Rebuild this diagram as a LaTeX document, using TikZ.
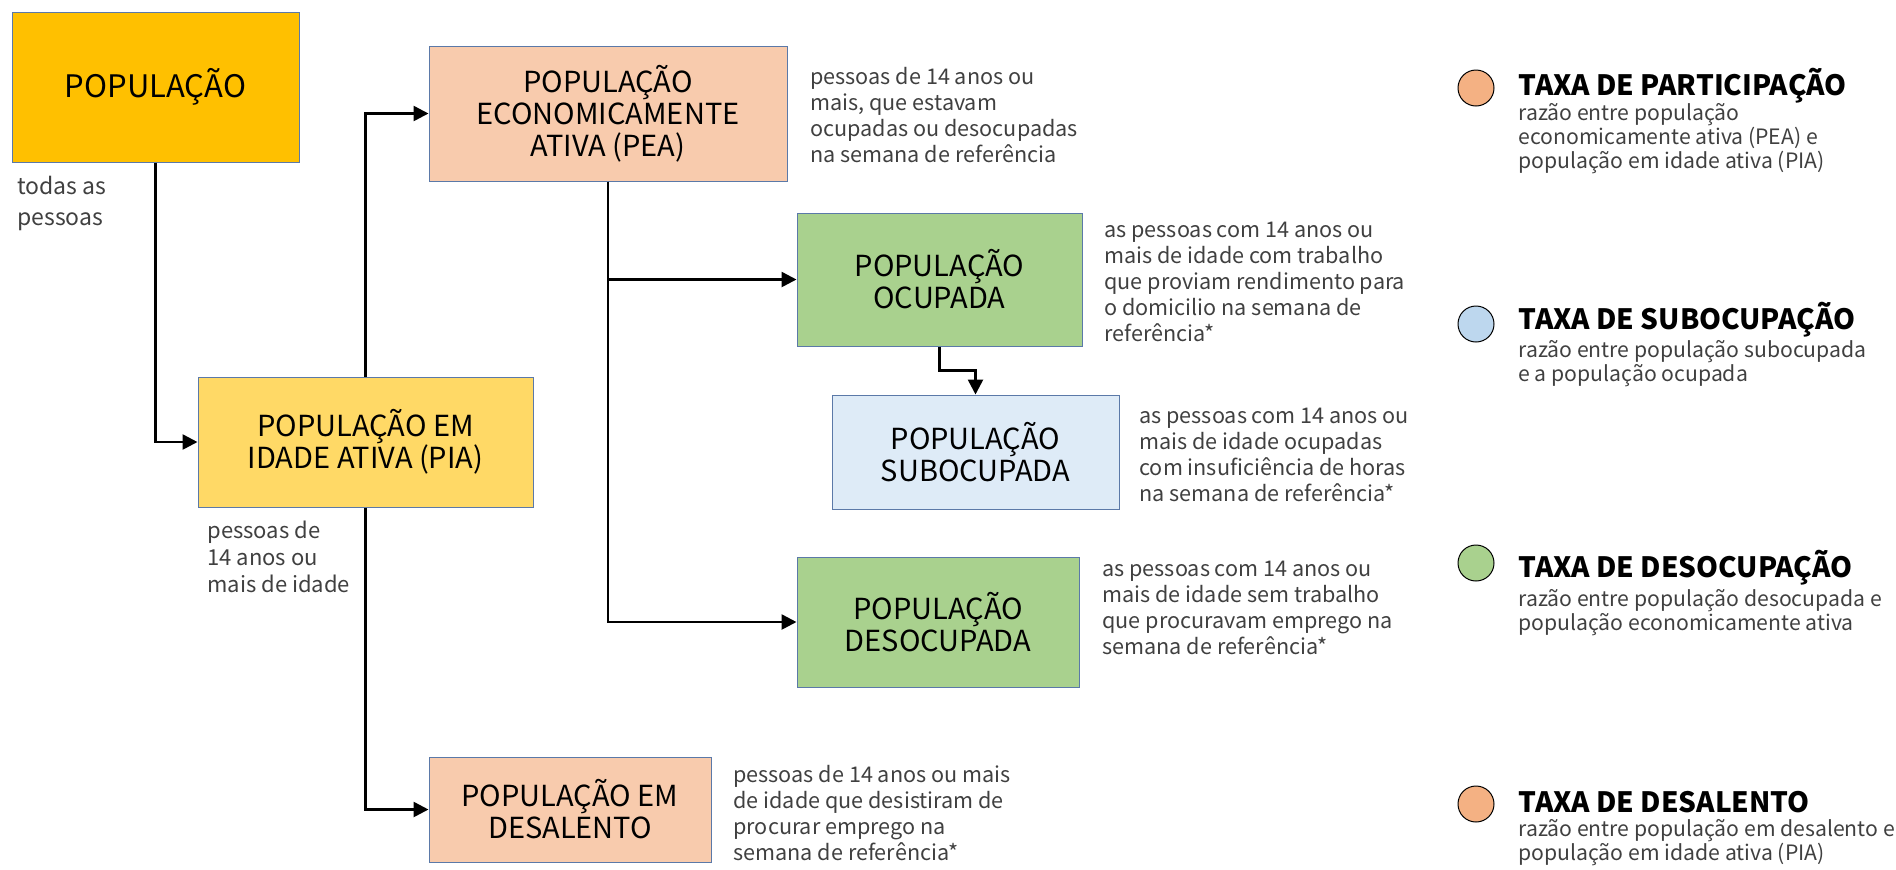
\documentclass[tikz,border=0pt]{standalone}
\usepackage{fontspec}
\setmainfont{Noto Sans CJK JP}
\usepackage{xcolor}
\usepackage{tikz}
\usetikzlibrary{arrows.meta,positioning}

\definecolor{popamarelo}{HTML}{FFC000}
\definecolor{piaamarelo}{HTML}{FFD966}
\definecolor{peasalmao}{HTML}{F8CBAD}
\definecolor{ocupverde}{HTML}{A9D18E}
\definecolor{subazul}{HTML}{DEEBF7}
\definecolor{bordaazul}{HTML}{5B79A8}
\definecolor{textocinza}{HTML}{404040}
\definecolor{laranja}{HTML}{F4B183}
\definecolor{azulclaro}{HTML}{BDD7EE}

\begin{document}
\begin{tikzpicture}[>=Latex,x=0.5pt,y=-0.5pt,
caixa/.style={draw=bordaazul,line width=0.5pt,align=center,inner sep=0pt,
  font=\fontsize{14.5}{16}\selectfont},
desc/.style={anchor=west,align=left,inner sep=0pt,text=textocinza,
  font=\fontsize{10.8}{13}\selectfont},
seta/.style={->,line width=1.3pt,>={Triangle[length=7.5pt,width=7.5pt]}},
bola/.style={circle,draw=black,line width=0.5pt,minimum size=18pt,inner sep=0pt},
titulo/.style={anchor=west,inner sep=0pt,font=\fontsize{14}{14}\selectfont\bfseries},
legdesc/.style={anchor=west,align=left,inner sep=0pt,text=textocinza,
  font=\fontsize{10.6}{12}\selectfont}]
\useasboundingbox (0,0) rectangle (1896,869);

\node[caixa,fill=popamarelo,minimum width=143.5pt,minimum height=75pt,
  font=\fontsize{15.5}{16}\selectfont] (pop) at (155.5,87) {POPULAÇÃO};
\node[caixa,fill=piaamarelo,minimum width=167.5pt,minimum height=65pt] (pia) at (365.5,442)
  {POPULAÇÃO EM\\IDADE ATIVA (PIA)};
\node[caixa,fill=peasalmao,minimum width=179pt,minimum height=67.5pt] (pea) at (608,113.5)
  {POPULAÇÃO\\ECONOMICAMENTE\\ATIVA (PEA)};
\node[caixa,fill=ocupverde,minimum width=142.5pt,minimum height=66.5pt] (ocup) at (939.5,279.5)
  {POPULAÇÃO\\OCUPADA};
\node[caixa,fill=subazul,minimum width=143.5pt,minimum height=57pt] (subo) at (975.5,452)
  {POPULAÇÃO\\SUBOCUPADA};
\node[caixa,fill=ocupverde,minimum width=141pt,minimum height=65pt] (desoc) at (938,622)
  {POPULAÇÃO\\DESOCUPADA};
\node[caixa,fill=peasalmao,minimum width=141pt,minimum height=52.5pt] (desal) at (570,809.5)
  {POPULAÇÃO EM\\DESALENTO};

\node[desc,font=\fontsize{11.5}{15.5}\selectfont] (todas) at (17,203) {todas as\\pessoas};
\node[desc,font=\fontsize{11}{13.5}\selectfont] (piatxt) at (207,556.5)
  {pessoas de\\14 anos ou\\mais de idade};
\node[desc] (peatxt) at (810,115.5)
  {pessoas de 14 anos ou\\mais, que estavam\\ocupadas ou desocupadas\\na semana de referência};
\node[desc] (ocuptxt) at (1104,282)
  {as pessoas com 14 anos ou\\mais de idade com trabalho\\que proviam rendimento para\\o domicilio na semana de\\referência*};
\node[desc] (subotxt) at (1139,455)
  {as pessoas com 14 anos ou\\mais de idade ocupadas\\com insuficiência de horas\\na semana de referência*};
\node[desc] (desoctxt) at (1102,608)
  {as pessoas com 14 anos ou\\mais de idade sem trabalho\\que procuravam emprego na\\semana de referência*};
\node[desc] (desaltxt) at (733,813)
  {pessoas de 14 anos ou mais\\de idade que desistiram de\\procurar emprego na\\semana de referência*};

\draw[seta] (pop.south) |- (pia.west);
\draw[seta] (pia.north) |- (pea.west);
\draw[seta] (pia.south) |- (desal.west);
\draw[seta] (pea.south) |- (ocup.west);
\draw[seta] (pea.south) |- (desoc.west);
\draw[seta] (ocup.south) -- ++(0,24) -| (subo.north);

\node[bola,fill=laranja] (b1) at (1476,88) {};
\node[titulo] (t1) at (1518,86) {TAXA DE PARTICIPAÇÃO};
\node[legdesc] (d1) at (1518,139)
  {razão entre população\\economicamente ativa (PEA) e\\população em idade ativa (PIA)};
\node[bola,fill=azulclaro] (b2) at (1476,324) {};
\node[titulo] (t2) at (1518,320) {TAXA DE SUBOCUPAÇÃO};
\node[legdesc] (d2) at (1518,364)
  {razão entre população subocupada\\e a população ocupada};
\node[bola,fill=ocupverde] (b3) at (1476,563) {};
\node[titulo] (t3) at (1518,568) {TAXA DE DESOCUPAÇÃO};
\node[legdesc] (d3) at (1518,613)
  {razão entre população desocupada e\\população economicamente ativa};
\node[bola,fill=laranja] (b4) at (1476,804) {};
\node[titulo] (t4) at (1518,802) {TAXA DE DESALENTO};
\node[legdesc] (d4) at (1518,843)
  {razão entre população em desalento e\\população em idade ativa (PIA)};
\end{tikzpicture}
\end{document}
